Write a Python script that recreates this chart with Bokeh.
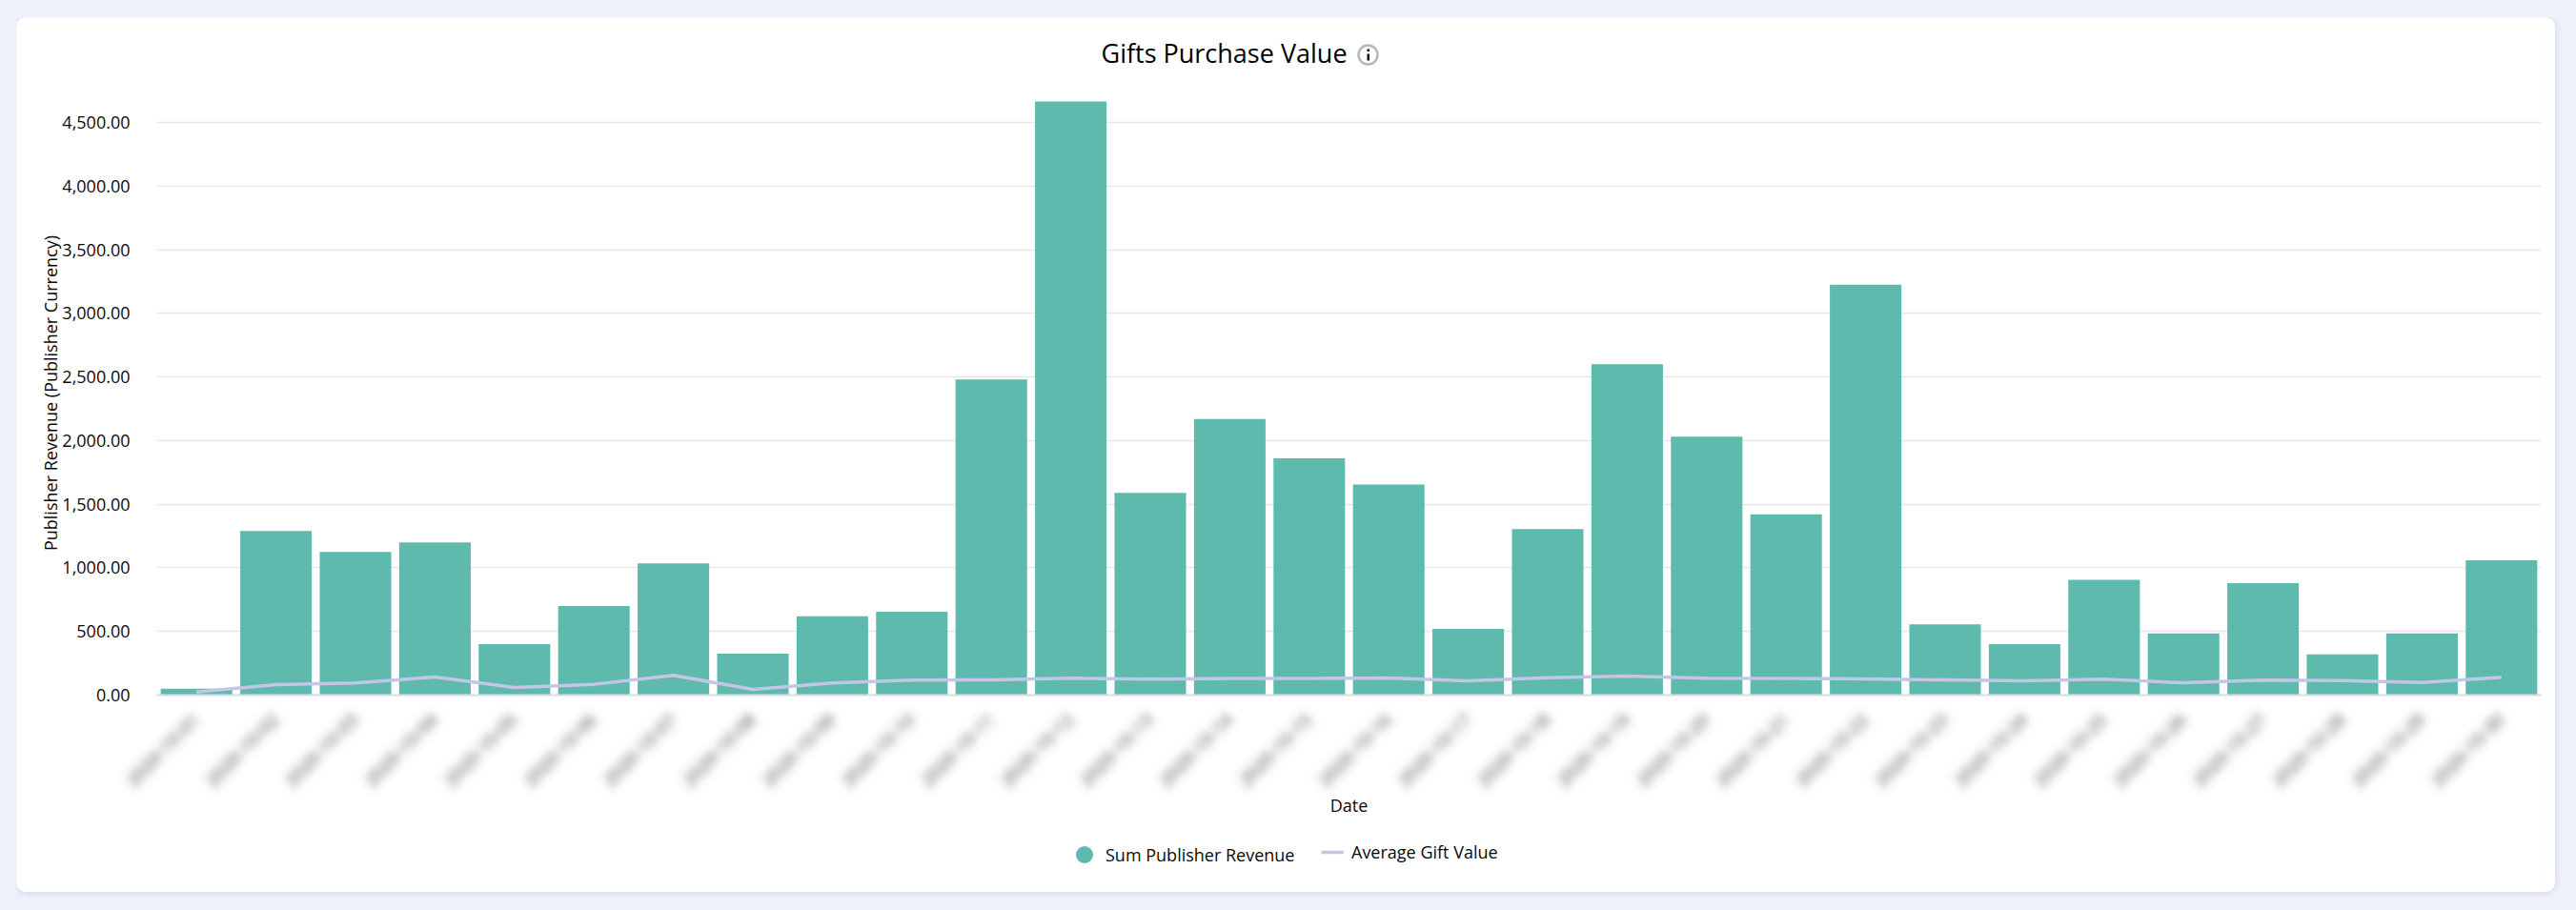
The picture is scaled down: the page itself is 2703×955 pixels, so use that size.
from bokeh.plotting import figure, curdoc
from bokeh.models import (Range1d, NumeralTickFormatter, BoxAnnotation, Label,
                          Legend, LegendItem, GlobalInlineStyleSheet, FixedTicker, CustomJS)
from bokeh.events import DocumentReady
from bokeh.embed import file_html
from bokeh.resources import INLINE
import math

# The date labels are blurred out in the reference: these are placeholder dates.
dates = ["2020-10-%02d" % d for d in range(1, 31)]
revenue = [50, 1290, 1125, 1200, 400, 700, 1035, 325, 620, 655,
           2480, 4665, 1590, 2170, 1860, 1655, 520, 1305, 2600, 2030,
           1420, 3225, 555, 400, 905, 485, 880, 320, 485, 1060]
avg_gift = [25, 82, 95, 142, 60, 85, 155, 45, 95, 118,
            120, 132, 125, 130, 130, 135, 112, 137, 150, 132,
            130, 127, 120, 112, 125, 97, 117, 115, 100, 140]
y_ticks = [0, 500, 1000, 1500, 2000, 2500, 3000, 3500, 4000, 4500]

TEAL = "#5DBAAD"
LILAC = "#C4C6E7"
FONT = "Open Sans"
INK = "#0a0a0a"

positions = list(range(len(dates)))

p = figure(width=2664, height=918, output_backend="svg", toolbar_location=None,
           x_range=Range1d(-2.2626, 29.5), y_range=Range1d(-1550, 5271),
           min_border_left=0, min_border_right=15, min_border_top=7, min_border_bottom=0,
           background_fill_color="white", border_fill_color="white",
           outline_line_color=None)
p.styles = {"border-radius": "10px", "overflow": "hidden",
            "box-shadow": "0 1px 9px rgba(90,100,140,0.22)"}
p.stylesheets = [GlobalInlineStyleSheet(
    css="html,body{background:#EFF2FB;} body{margin:18px 0 0 17px !important;}")]

p.xgrid.grid_line_color = None
p.ygrid.grid_line_color = "#E6E6E6"
p.ygrid.grid_line_width = 1.5
p.ygrid.level = "underlay"
p.ygrid.cross_bounds = (-0.5, 29.5)

bars = p.vbar(x=positions, top=revenue, width=0.9, fill_color=TEAL, line_color=None)
line = p.line(x=positions, y=avg_gift, line_color=LILAC, line_width=3.5)
swatch = p.scatter(x=[float("nan")], y=[float("nan")], size=18, marker="circle",
                   fill_color=TEAL, line_color=None)

p.yaxis.fixed_location = -0.5
p.yaxis.ticker = FixedTicker(ticks=y_ticks)
p.ygrid.ticker = FixedTicker(ticks=y_ticks)
p.yaxis.formatter = NumeralTickFormatter(format="0,0.00")
p.yaxis.axis_line_color = None
p.yaxis.major_tick_line_color = None
p.yaxis.minor_tick_line_color = None
p.yaxis.major_label_text_font = FONT
p.yaxis.major_label_text_font_size = "18px"
p.yaxis.major_label_text_color = INK
p.yaxis.major_label_standoff = 22

p.xaxis.fixed_location = 0
p.xaxis.bounds = (-0.5, 29.5)
p.xaxis.ticker = FixedTicker(ticks=positions)
p.xaxis.major_label_overrides = dict(zip(positions, dates))
p.xaxis.axis_line_color = "#D8DFEA"
p.xaxis.axis_line_width = 2
p.xaxis.major_tick_line_color = None
p.xaxis.minor_tick_line_color = None
p.xaxis.major_label_orientation = math.pi / 4
p.xaxis.major_label_text_font = FONT
p.xaxis.major_label_text_font_size = "19px"
p.xaxis.major_label_text_color = "#444444"
p.xaxis.major_label_standoff = 17

p.add_layout(Label(x=35, y=524, x_units="screen", y_units="screen",
                   text="Publisher Revenue (Publisher Currency)", angle=math.pi / 2,
                   text_font=FONT, text_font_size="18px", text_color=INK,
                   text_align="center", text_baseline="middle"))
p.add_layout(Label(x=1398, y=92, x_units="screen", y_units="screen", text="Date",
                   text_font=FONT, text_font_size="18px", text_color=INK,
                   text_align="center", text_baseline="middle"))

p.add_layout(Legend(items=[LegendItem(label="Sum Publisher Revenue", renderers=[swatch])],
                    location=(1098, 17), glyph_width=45, glyph_height=45, spacing=0, padding=0,
                    margin=0, border_line_color=None, background_fill_alpha=0,
                    label_text_font=FONT, label_text_font_size="18px", label_text_color=INK,
                    label_standoff=-3))
p.add_layout(Legend(items=[LegendItem(label="Average Gift Value", renderers=[line])],
                    location=(1369, 30), glyph_width=24, glyph_height=20, spacing=0, padding=0,
                    margin=0, border_line_color=None, background_fill_alpha=0,
                    label_text_font=FONT, label_text_font_size="18px", label_text_color=INK,
                    label_standoff=8))

p.add_layout(Label(x=1138, y=881, x_units="screen", y_units="screen", text="Gifts Purchase Value",
                   text_font=FONT, text_font_size="27px", text_color="#000000",
                   text_align="left", text_baseline="middle"))

# info icon next to the title
p.add_layout(BoxAnnotation(left=1408, right=1428, top=889, bottom=869, left_units="screen", right_units="screen",
                           top_units="screen", bottom_units="screen", fill_alpha=0,
                           line_color="#111111", line_width=2.5, border_radius=10))
p.add_layout(BoxAnnotation(left=1417, right=1419.5, top=880, bottom=873, left_units="screen", right_units="screen",
                           top_units="screen", bottom_units="screen", fill_color="#111111", fill_alpha=1, line_color=None))
p.add_layout(BoxAnnotation(left=1417, right=1419.5, top=885, bottom=882.5, left_units="screen", right_units="screen",
                           top_units="screen", bottom_units="screen", fill_color="#111111", fill_alpha=1, line_color=None))

# the date labels are blurred in the reference; blur the real text the same way
blur = CustomJS(code="""
const NS = 'http://www.w3.org/2000/svg';
function walk(root){
  root.querySelectorAll('*').forEach(el => {
    if (el.tagName === 'text' && /^\\d{4}-/.test(el.textContent)) {
      const svg = el.ownerSVGElement;
      if (svg && !svg.querySelector('#dateblur')) {
        const f = document.createElementNS(NS, 'filter');
        f.setAttribute('id', 'dateblur');
        f.setAttribute('x', '-30%'); f.setAttribute('y', '-70%');
        f.setAttribute('width', '160%'); f.setAttribute('height', '240%');
        const g = document.createElementNS(NS, 'feGaussianBlur');
        g.setAttribute('stdDeviation', '5');
        f.appendChild(g);
        svg.insertBefore(f, svg.firstChild);
      }
      el.setAttribute('filter', 'url(#dateblur)');
    }
    if (el.shadowRoot) walk(el.shadowRoot);
  });
}
walk(document);
setInterval(() => walk(document), 100);
""")
doc = curdoc()
doc.add_root(p)
doc.js_on_event(DocumentReady, blur)

open("out.html", "w").write(file_html(p, INLINE))
